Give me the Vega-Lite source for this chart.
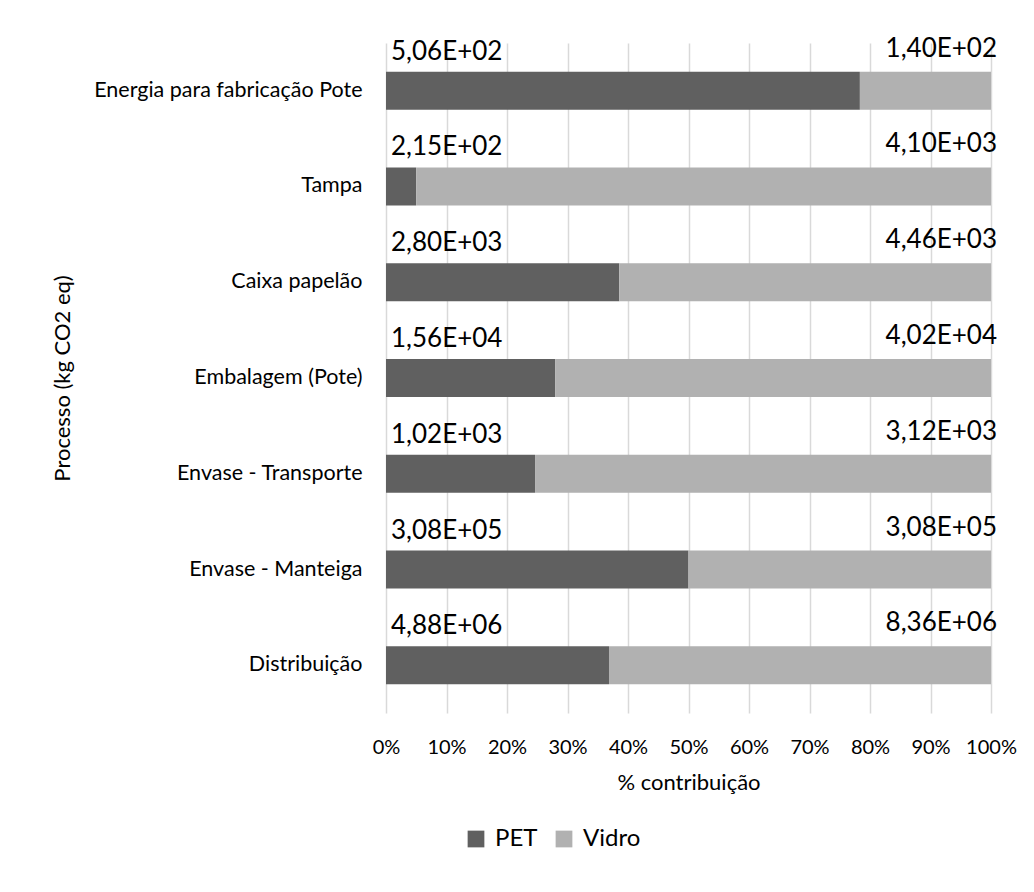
{
  "$schema": "https://vega.github.io/schema/vega-lite/v6.json",
  "width": 605,
  "height": 670,
  "autosize": {"type": "none"},
  "padding": {"left": 386, "top": 43, "right": 43, "bottom": 179},
  "background": "white",
  "config": {
    "font": "Lato",
    "view": {"stroke": null},
    "axis": {"labelColor": "#000000", "titleColor": "#000000", "titleFontWeight": "normal"},
    "legend": {"labelColor": "#000000"}
  },
  "data": {
    "values": [
      {"processo": "Energia para fabricação Pote", "serie": "PET", "valor": 506},
      {"processo": "Energia para fabricação Pote", "serie": "Vidro", "valor": 140},
      {"processo": "Tampa", "serie": "PET", "valor": 215},
      {"processo": "Tampa", "serie": "Vidro", "valor": 4100},
      {"processo": "Caixa papelão", "serie": "PET", "valor": 2800},
      {"processo": "Caixa papelão", "serie": "Vidro", "valor": 4460},
      {"processo": "Embalagem (Pote)", "serie": "PET", "valor": 15600},
      {"processo": "Embalagem (Pote)", "serie": "Vidro", "valor": 40200},
      {"processo": "Envase - Transporte", "serie": "PET", "valor": 1020},
      {"processo": "Envase - Transporte", "serie": "Vidro", "valor": 3120},
      {"processo": "Envase - Manteiga", "serie": "PET", "valor": 308000},
      {"processo": "Envase - Manteiga", "serie": "Vidro", "valor": 308000},
      {"processo": "Distribuição", "serie": "PET", "valor": 4880000},
      {"processo": "Distribuição", "serie": "Vidro", "valor": 8360000}
    ]
  },
  "encoding": {
    "y": {
      "field": "processo",
      "type": "nominal",
      "sort": ["Energia para fabricação Pote", "Tampa", "Caixa papelão", "Embalagem (Pote)", "Envase - Transporte", "Envase - Manteiga", "Distribuição"],
      "scale": {"paddingInner": 0.603, "paddingOuter": 0.3},
      "axis": {
        "title": "Processo (kg CO2 eq)",
        "titleFontSize": 22,
        "titleAngle": -90,
        "titleX": -324,
        "titleY": 335,
        "titleAlign": "center",
        "titleBaseline": "middle",
        "labelFontSize": 21.5,
        "labelPadding": 24,
        "labelLimit": 0,
        "ticks": false,
        "domain": false,
        "grid": false
      }
    }
  },
  "layer": [
    {
      "mark": {"type": "bar"},
      "encoding": {
        "x": {
          "field": "valor",
          "type": "quantitative",
          "stack": "normalize",
          "scale": {"domain": [0, 1], "nice": false},
          "axis": {
            "title": "% contribuição",
            "titleFontSize": 22,
            "titlePadding": 15,
            "format": "%",
            "values": [0, 0.1, 0.2, 0.3, 0.4, 0.5, 0.6, 0.7, 0.8, 0.9, 1],
            "labelFontSize": 20,
            "labelPadding": 24,
            "labelFlush": false,
            "ticks": false,
            "domain": false,
            "grid": true,
            "gridColor": "#d9d9d9",
            "gridWidth": 1.5
          }
        },
        "color": {
          "field": "serie",
          "type": "nominal",
          "scale": {"domain": ["PET", "Vidro"], "range": ["#606060", "#b1b1b1"]},
          "legend": {
            "title": null,
            "orient": "none",
            "direction": "horizontal",
            "legendX": 78,
            "legendY": 784,
            "symbolType": "square",
            "symbolSize": 280,
            "symbolStrokeWidth": 0,
            "labelFontSize": 24,
            "labelOffset": 7,
            "columnPadding": 14
          }
        },
        "order": {"field": "serie", "sort": "ascending"}
      }
    },
    {
      "transform": [
        {"filter": "datum.serie === 'PET'"},
        {"calculate": "replace(replace(upper(format(datum.valor, '.2e')), '.', ','), 'E+', 'E+0')", "as": "rotulo"}
      ],
      "mark": {"type": "text", "align": "left", "baseline": "alphabetic", "dx": 5, "dy": -31, "fontSize": 26, "color": "#000000"},
      "encoding": {
        "x": {"datum": 0, "type": "quantitative"},
        "text": {"field": "rotulo", "type": "nominal"}
      }
    },
    {
      "transform": [
        {"filter": "datum.serie === 'Vidro'"},
        {"calculate": "replace(replace(upper(format(datum.valor, '.2e')), '.', ','), 'E+', 'E+0')", "as": "rotulo"}
      ],
      "mark": {"type": "text", "align": "right", "baseline": "alphabetic", "dx": 6, "dy": -34, "fontSize": 26, "color": "#000000"},
      "encoding": {
        "x": {"datum": 1, "type": "quantitative"},
        "text": {"field": "rotulo", "type": "nominal"}
      }
    }
  ]
}
